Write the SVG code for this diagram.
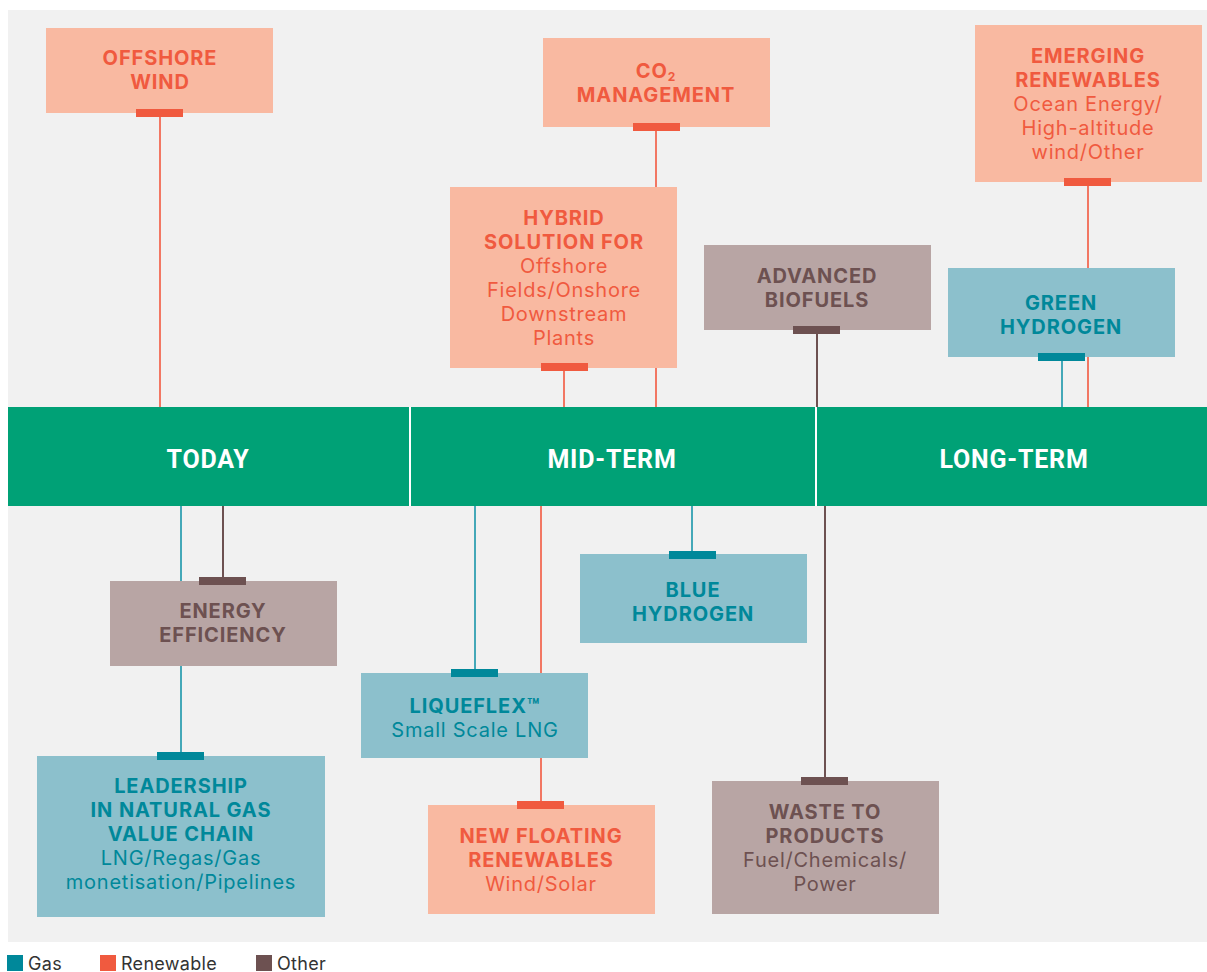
<svg xmlns="http://www.w3.org/2000/svg" width="1207" height="972" viewBox="0 0 1207 972">
<style>
text{font-family:Inter,"Liberation Sans",sans-serif;text-anchor:middle;font-size:20px;letter-spacing:0.75px}
.b{font-weight:bold;letter-spacing:0.9px}
.band{font-family:Roboto,"Liberation Sans",sans-serif;fill:#fff;font-weight:bold;font-size:25px;letter-spacing:0.8px}
.rbox{fill:#F9B9A1}.gbox{fill:#8CC0CC}.obox{fill:#B8A5A4}
.rt{fill:#F05A3F}.gt{fill:#00889A}.ot{fill:#6D5151}
.rl{stroke:#F27763;stroke-width:2}.gl{stroke:#44A8B8;stroke-width:2}.ol{stroke:#6D5151;stroke-width:2}
.leg{text-anchor:start;font-size:18px;fill:#333;letter-spacing:0.3px}
</style>
<rect x="0" y="0" width="1207" height="972" fill="#fff"/>
<rect x="8" y="10" width="1199" height="932" fill="#F1F1F1"/>
<g id="connectors">
<line class="rl" x1="160" y1="117" x2="160" y2="407"/>
<line class="rl" x1="656" y1="131" x2="656" y2="407"/>
<line class="rl" x1="564" y1="371" x2="564" y2="407"/>
<line class="ol" x1="817" y1="334" x2="817" y2="407"/>
<line class="rl" x1="1088" y1="186" x2="1088" y2="407"/>
<line class="gl" x1="1062" y1="361" x2="1062" y2="407"/>
<line class="gl" x1="181" y1="506" x2="181" y2="752"/>
<line class="ol" x1="223" y1="506" x2="223" y2="577"/>
<line class="gl" x1="475" y1="506" x2="475" y2="669"/>
<line class="rl" x1="541" y1="506" x2="541" y2="801"/>
<line class="gl" x1="692" y1="506" x2="692" y2="551"/>
<line class="ol" x1="825" y1="506" x2="825" y2="777"/>
</g>
<g id="timeline">
<rect x="8" y="407" width="1199" height="99" fill="#00A176"/>
<rect x="409" y="407" width="2" height="99" fill="#fff"/>
<rect x="815" y="407" width="2" height="99" fill="#fff"/>
<text class="band" x="208" y="468">TODAY</text>
<text class="band" x="612" y="468">MID-TERM</text>
<text class="band" x="1014" y="468">LONG-TERM</text>
</g>
<g id="offshore-wind">
<rect class="rbox" x="46" y="28" width="227" height="85"/>
<rect fill="#F05A3F" x="136" y="109" width="47" height="8"/>
<text class="b rt" x="160" y="65">OFFSHORE</text>
<text class="b rt" x="160" y="89">WIND</text>
</g>
<g id="co2-management">
<rect class="rbox" x="543" y="38" width="227" height="89"/>
<rect fill="#F05A3F" x="633" y="123" width="47" height="8"/>
<text class="b rt" x="656" y="78">CO<tspan font-size="12" dy="3">2</tspan></text>
<text class="b rt" x="656" y="102">MANAGEMENT</text>
</g>
<g id="hybrid-solution">
<rect class="rbox" x="450" y="187" width="227" height="181"/>
<rect fill="#F05A3F" x="541" y="363" width="47" height="8"/>
<text class="b rt" x="564" y="225">HYBRID</text>
<text class="b rt" x="564" y="249">SOLUTION FOR</text>
<text class="rt" x="564" y="273">Offshore</text>
<text class="rt" x="564" y="297">Fields/Onshore</text>
<text class="rt" x="564" y="321">Downstream</text>
<text class="rt" x="564" y="345">Plants</text>
</g>
<g id="advanced-biofuels">
<rect class="obox" x="704" y="245" width="227" height="85"/>
<rect fill="#6D5151" x="793" y="326" width="47" height="8"/>
<text class="b ot" x="817" y="283">ADVANCED</text>
<text class="b ot" x="817" y="307">BIOFUELS</text>
</g>
<g id="emerging-renewables">
<rect class="rbox" x="975" y="25" width="227" height="157"/>
<rect fill="#F05A3F" x="1064" y="178" width="47" height="8"/>
<text class="b rt" x="1088" y="63">EMERGING</text>
<text class="b rt" x="1088" y="87">RENEWABLES</text>
<text class="rt" x="1088" y="111">Ocean Energy/</text>
<text class="rt" x="1088" y="135">High-altitude</text>
<text class="rt" x="1088" y="159">wind/Other</text>
</g>
<g id="green-hydrogen">
<rect class="gbox" x="948" y="268" width="227" height="89"/>
<rect fill="#00889A" x="1038" y="353" width="47" height="8"/>
<text class="b gt" x="1061" y="310">GREEN</text>
<text class="b gt" x="1061" y="334">HYDROGEN</text>
</g>
<g id="energy-efficiency">
<rect class="obox" x="110" y="581" width="227" height="85"/>
<rect fill="#6D5151" x="199" y="577" width="47" height="8"/>
<text class="b ot" x="223" y="618">ENERGY</text>
<text class="b ot" x="223" y="642">EFFICIENCY</text>
</g>
<g id="leadership-natural-gas">
<rect class="gbox" x="37" y="756" width="288" height="161"/>
<rect fill="#00889A" x="157" y="752" width="47" height="8"/>
<text class="b gt" x="181" y="793">LEADERSHIP</text>
<text class="b gt" x="181" y="817">IN NATURAL GAS</text>
<text class="b gt" x="181" y="841">VALUE CHAIN</text>
<text class="gt" x="181" y="865">LNG/Regas/Gas</text>
<text class="gt" x="181" y="889">monetisation/Pipelines</text>
</g>
<g id="liqueflex">
<rect class="gbox" x="361" y="673" width="227" height="85"/>
<rect fill="#00889A" x="451" y="669" width="47" height="8"/>
<text class="b gt" x="475" y="713">LIQUEFLEX™</text>
<text class="gt" x="475" y="737">Small Scale LNG</text>
</g>
<g id="blue-hydrogen">
<rect class="gbox" x="580" y="554" width="227" height="89"/>
<rect fill="#00889A" x="669" y="551" width="47" height="8"/>
<text class="b gt" x="693" y="597">BLUE</text>
<text class="b gt" x="693" y="621">HYDROGEN</text>
</g>
<g id="new-floating-renewables">
<rect class="rbox" x="428" y="805" width="227" height="109"/>
<rect fill="#F05A3F" x="517" y="801" width="47" height="8"/>
<text class="b rt" x="541" y="843">NEW FLOATING</text>
<text class="b rt" x="541" y="867">RENEWABLES</text>
<text class="rt" x="541" y="891">Wind/Solar</text>
</g>
<g id="waste-to-products">
<rect class="obox" x="712" y="781" width="227" height="133"/>
<rect fill="#6D5151" x="801" y="777" width="47" height="8"/>
<text class="b ot" x="825" y="819">WASTE TO</text>
<text class="b ot" x="825" y="843">PRODUCTS</text>
<text class="ot" x="825" y="867">Fuel/Chemicals/</text>
<text class="ot" x="825" y="891">Power</text>
</g>
<g id="legend">
<rect x="7" y="955" width="16" height="16" fill="#00889A"/>
<text class="leg" x="28" y="970">Gas</text>
<rect x="100" y="955" width="16" height="16" fill="#F05A3F"/>
<text class="leg" x="121" y="970">Renewable</text>
<rect x="256" y="955" width="16" height="16" fill="#6D5151"/>
<text class="leg" x="277" y="970">Other</text>
</g>
</svg>
